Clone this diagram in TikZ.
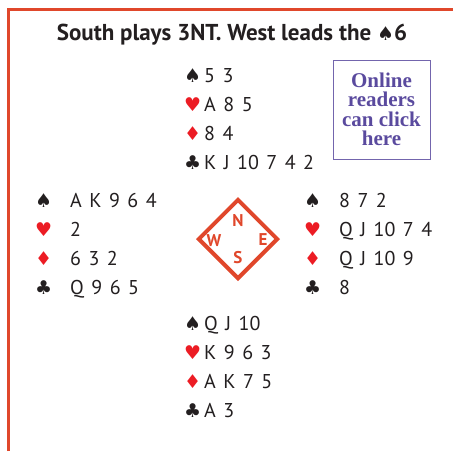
\documentclass[tikz,border=0pt]{standalone}
\usepackage{fontspec}
\setmainfont{PT Sans}
\newfontfamily\handfont{PT Sans}[WordSpace=1.4]
\newfontfamily\suitfont{DejaVu Sans}
\newfontfamily\onlinefont{Liberation Serif}
\usetikzlibrary{shapes.geometric,positioning}

\definecolor{framered}{HTML}{E0472B}
\definecolor{suitred}{HTML}{EC1C24}
\definecolor{ink}{HTML}{231F20}
\definecolor{linkpurple}{HTML}{5A4A9E}

\newcommand{\spd}{{\fontsize{19}{29}\suitfont\char"2660}}
\newcommand{\hrt}{\textcolor{suitred}{\fontsize{19}{29}\suitfont\char"2665}}
\newcommand{\dmd}{\textcolor{suitred}{\fontsize{19}{29}\suitfont\char"2666}}
\newcommand{\clb}{{\fontsize{19}{29}\suitfont\char"2663}}

\tikzset{
  frame/.style={draw=framered,line width=3pt},
  title/.style={anchor=base,inner sep=0pt,text=ink,font=\fontsize{23}{27}\selectfont\bfseries},
  hand/.style={anchor=north west,inner sep=0pt,text=ink,font=\fontsize{20}{29}\selectfont\handfont},
  compass/.style={diamond,draw=framered,line width=4pt,minimum width=80pt,minimum height=80pt,inner sep=0pt},
  compassletter/.style={inner sep=0pt,text=framered,font=\fontsize{17}{17}\selectfont\bfseries},
  linkbox/.style={draw=linkpurple!85,line width=1pt,minimum width=97pt,minimum height=99pt,inner sep=0pt,
    align=center,text=linkpurple,font=\fontsize{21}{19.5}\selectfont\onlinefont\bfseries}
}

\begin{document}
\begin{tikzpicture}[x=1pt,y=-1pt]
        \useasboundingbox (0,0) rectangle (453,451);
        % frame
        \draw[frame] (8,451) -- (8,9.7) -- (453,9.7);
        \node[title] (title) at (232,40.5) {South plays 3NT. West leads the {\fontsize{19}{20}\suitfont\char"2660}6};
        \node[linkbox] (online) at (381.5,109.5) {Online\\readers\\can click\\here};
        % hands
        \node[hand] (north) at (184,61.5) {\begin{tabular}{@{}l@{\hspace{3pt}}l@{}}
          \spd & 5 3\\ \hrt & A 8 5\\ \dmd & 8 4\\ \clb & K J 10 7 4 2\end{tabular}};
        \node[hand] (west) at (35,186.5) {\begin{tabular}{@{}l@{\hspace{18pt}}l@{}}
          \spd & A K 9 6 4\\ \hrt & 2\\ \dmd & 6 3 2\\ \clb & Q 9 6 5\end{tabular}};
        \node[hand] (east) at (304,186.5) {\begin{tabular}{@{}l@{\hspace{18pt}}l@{}}
          \spd & 8 7 2\\ \hrt & Q J 10 7 4\\ \dmd & Q J 10 9\\ \clb & 8\end{tabular}};
        \node[hand] (south) at (184,309.5) {\begin{tabular}{@{}l@{\hspace{3pt}}l@{}}
          \spd & Q J 10\\ \hrt & K 9 6 3\\ \dmd & A K 7 5\\ \clb & A 3\end{tabular}};
        % compass
        \node[compass] (compass) at (238,239) {};
        \node[compassletter] (n) at (238,221) {N};
        \node[compassletter] (w) at (214,241) {W};
        \node[compassletter] (e) at (263,240) {E};
        \node[compassletter] (s) at (238,258) {S};
\end{tikzpicture}
\end{document}
